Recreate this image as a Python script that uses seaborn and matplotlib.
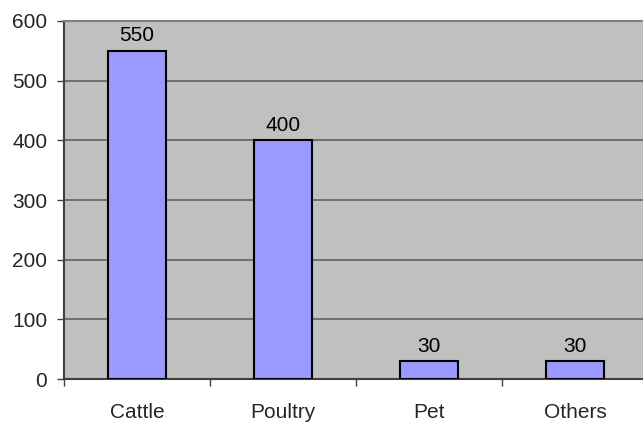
import matplotlib
matplotlib.use("Agg")
import matplotlib.pyplot as plt
import seaborn as sns
import pandas as pd

categories = ["Cattle", "Poultry", "Pet", "Others"]
values = [550, 400, 30, 30]
y_ticks = [0, 100, 200, 300, 400, 500, 600]

sns.set_theme(style="white")
plt.rcParams["font.family"] = ["Liberation Sans", "DejaVu Sans"]

df = pd.DataFrame({"category": categories, "value": values})

fig = plt.figure(figsize=(6.43, 4.23), dpi=100)
ax = fig.add_axes([64 / 643, 1 - 379 / 423, 584 / 643, 358 / 423])
ax.set_facecolor("#C0C0C0")

sns.barplot(data=df, x="category", y="value", color="#9999FF", width=0.4,
            edgecolor="black", linewidth=1.5, saturation=1, ax=ax, zorder=3)

ax.set_ylim(0, 600)
ax.set_xlim(-0.5, len(categories) - 0.5)
ax.set_yticks(y_ticks)
ax.yaxis.grid(True, color="#606060", linewidth=1.2, zorder=1)
ax.set_axisbelow(True)
ax.set_xlabel("")
ax.set_ylabel("")

# category labels centred, ticks on the boundaries
ax.set_xticks(range(len(categories)))
ax.set_xticklabels(categories)
ax.set_xticks([i + 0.5 for i in range(-1, len(categories))], minor=True)
ax.tick_params(axis="x", which="major", length=0, pad=17, labelsize=15)
ax.tick_params(axis="x", which="minor", length=5, width=1, color="#404040",
               direction="out", bottom=True)
ax.tick_params(axis="y", length=5, width=1, color="#404040", direction="out",
               left=True, pad=7, labelsize=15)

for side in ["left", "bottom"]:
    ax.spines[side].set_color("#404040")
    ax.spines[side].set_linewidth(1.5)
ax.spines["top"].set_color("#808080")
ax.spines["top"].set_linewidth(1.5)
ax.spines["right"].set_visible(False)

for i, v in enumerate(values):
    ax.annotate(str(v), (i, v), xytext=(0, 4), textcoords="offset points",
                ha="center", va="bottom", fontsize=15, color="black")

fig.savefig("out.png", dpi=100)
